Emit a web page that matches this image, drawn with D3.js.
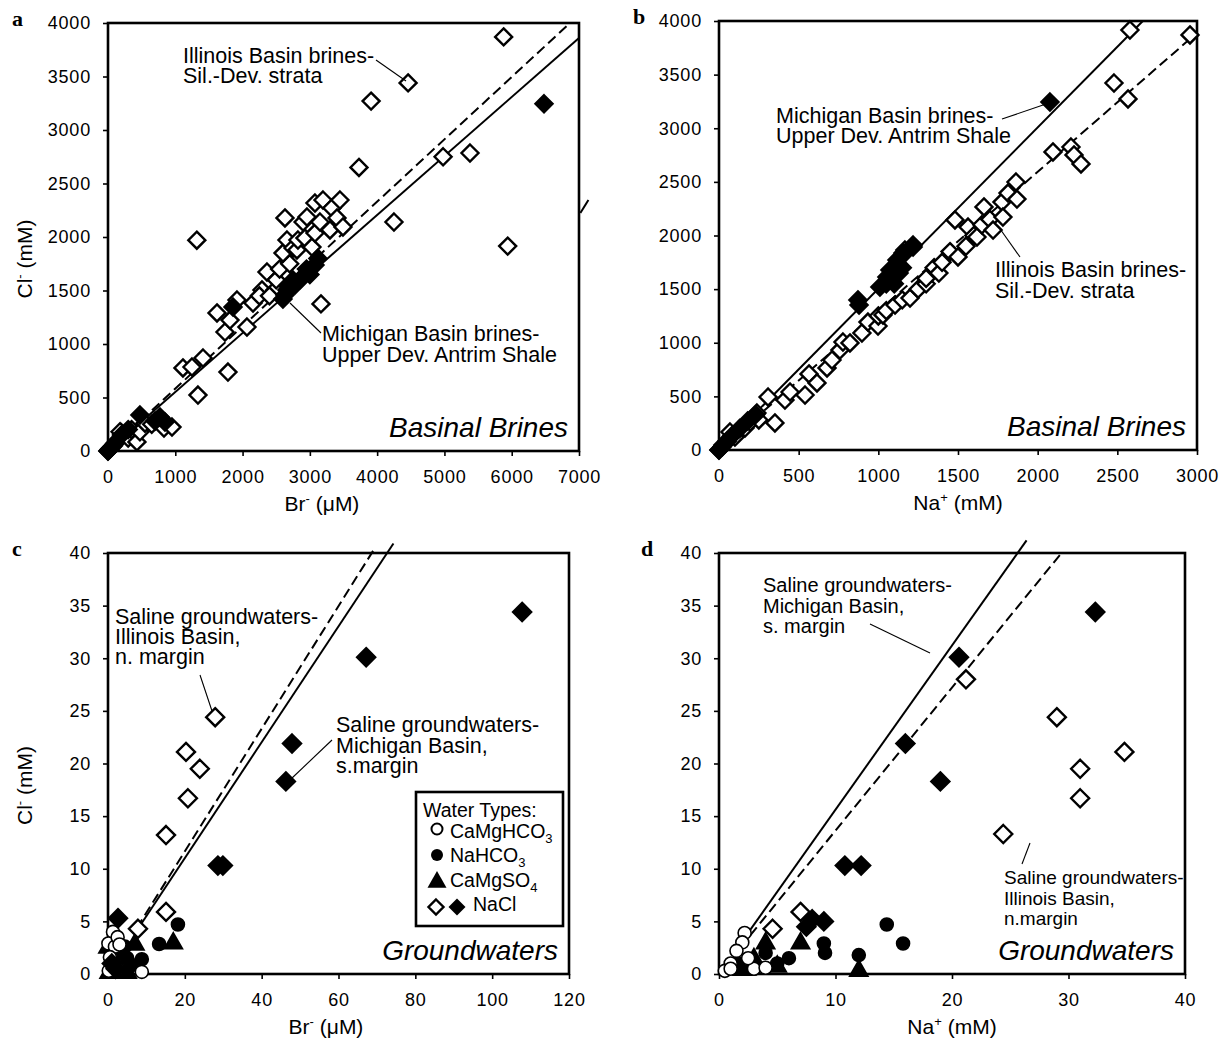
<!DOCTYPE html>
<html>
<head>
<meta charset="utf-8">
<script src="https://cdn.jsdelivr.net/npm/d3@7"></script>
<style>
  body { margin: 0; background: #fff; }
  svg text { font-family: "Liberation Sans", Arial, Helvetica, sans-serif; fill: #000; }
</style>
</head>
<body>
<script>
// ---------- data ----------
// a: basinal brines, Br (uM) vs Cl (mM)
const brinesBrIllinois = [
  [0, 0], [30, 20], [80, 50], [150, 100], [200, 170], [180, 180], [300, 120], [350, 200],
  [430, 85], [475, 180], [550, 260], [650, 250], [832, 215], [951, 224], [1114, 776],
  [1248, 785], [1337, 523], [1412, 869], [1620, 1290], [1739, 1112], [1783, 738],
  [1813, 1224], [1917, 1411], [2065, 1159], [2155, 1383], [2288, 1505], [2363, 1673],
  [2482, 1505], [2250, 1450], [2400, 1450], [2500, 1600], [2550, 1700], [2700, 1750],
  [2601, 1850], [2630, 2178], [2660, 1972], [2750, 1897], [2808, 1879], [2823, 1972],
  [2900, 2140], [2927, 1990], [2957, 2187], [3031, 1906], [3076, 2318], [3076, 2037],
  [3150, 2140], [3195, 2346], [3299, 2066], [3328, 2271], [3403, 2178], [3447, 2346],
  [3492, 2094], [3165, 1375], [3730, 2650], [3910, 3270], [4460, 3440], [4980, 2750],
  [5380, 2785], [4250, 2140], [5880, 3870], [5940, 1915], [1320, 1970]
];
const brinesBrMichigan = [
  [0, 0], [20, 15], [60, 40], [100, 70], [200, 150], [300, 200], [475, 336], [700, 280],
  [773, 318], [847, 271], [1858, 1346], [2600, 1420], [2630, 1458], [2680, 1500],
  [2660, 1505], [2700, 1550], [2750, 1598], [2779, 1551], [2850, 1600], [2927, 1645],
  [2950, 1700], [3000, 1650], [3076, 1738], [3120, 1800], [6480, 3245]
];
// b: basinal brines, Na (mM) vs Cl (mM)
const brinesNaIllinois = [
  [0, 0], [25, 47], [50, 80], [69, 168], [100, 120], [163, 205], [195, 261], [238, 345],
  [250, 280], [308, 494], [351, 252], [414, 466], [446, 541], [540, 513], [565, 709],
  [615, 625], [678, 765], [709, 839], [759, 932], [778, 1007], [822, 998], [897, 1091],
  [935, 1193], [998, 1156], [1000, 1250], [1029, 1259], [1050, 1300], [1105, 1352],
  [1150, 1400], [1199, 1417], [1250, 1500], [1300, 1550], [1300, 1600], [1350, 1700],
  [1380, 1650], [1400, 1750], [1450, 1850], [1500, 1800], [1481, 2145], [1550, 1900],
  [1563, 2079], [1600, 2000], [1619, 1986], [1650, 2100], [1663, 2266], [1700, 2150],
  [1720, 2051], [1776, 2312], [1782, 2172], [1814, 2396], [1864, 2499], [1870, 2340],
  [1167, 1865], [1218, 1911], [2096, 2779], [2209, 2825], [2228, 2751], [2272, 2667],
  [2479, 3422], [2567, 3273], [2579, 3916], [2956, 3870]
];
const brinesNaMichigan = [
  [0, 0], [20, 30], [50, 80], [80, 130], [130, 200], [180, 270], [230, 330], [872, 1399],
  [879, 1352], [1010, 1520], [1050, 1550], [1054, 1613], [1073, 1678], [1080, 1600],
  [1100, 1550], [1100, 1700], [1117, 1772], [1130, 1650], [1150, 1700], [1155, 1837],
  [1218, 1893], [2077, 3245]
];
// c: groundwaters, Br (uM) vs Cl (mM)
const gwBrOpenNaCl = [[27.9, 24.4], [20.3, 21.1], [23.9, 19.5], [20.8, 16.7], [15.1, 13.2], [15.1, 5.9], [7.8, 4.3]];
const gwBrFilledNaCl = [[107.8, 34.4], [67.2, 30.1], [47.9, 21.9], [46.3, 18.3], [28.6, 10.3], [29.9, 10.3], [2.6, 5.3], [1.0, 1.0], [2.0, 0.5]];
const gwBrNaHCO3 = [[18.2, 4.7], [13.3, 2.85], [8.8, 1.4], [4.4, 2.6], [2.0, 1.0], [3.0, 0.5], [5.0, 1.5], [1.0, 0.3], [6.0, 0.8], [3.0, 2.5]];
const gwBrCaMgSO4 = [[17.0, 3.0], [7.0, 2.9], [0.0, 2.6], [1.0, 0.4], [2.0, 0.2], [3.0, 1.0], [4.0, 0.6], [6.0, 1.0], [5.0, 0.2], [0.3, 0.2], [3.0, 2.2]];
const gwBrCaMgHCO3 = [[8.8, 0.2], [1.3, 4.0], [0.1, 2.9], [1.8, 2.6], [0.5, 1.6], [1.8, 0.85], [2.5, 3.5], [1.5, 0.8], [2.5, 0.5], [0.2, 0.3], [3.0, 2.8]];
// d: groundwaters, Na (mM) vs Cl (mM)
const gwNaOpenNaCl = [[29.0, 24.4], [34.8, 21.1], [31.0, 19.5], [31.0, 16.7], [24.4, 13.3], [7.0, 5.9], [4.6, 4.3], [21.2, 28.0]];
const gwNaFilledNaCl = [[32.3, 34.4], [20.6, 30.1], [16.0, 21.9], [19.0, 18.3], [10.8, 10.3], [12.2, 10.3], [8.0, 5.2], [9.0, 5.0], [7.5, 4.5]];
const gwNaNaHCO3 = [[14.4, 4.7], [15.8, 2.9], [9.0, 2.9], [9.1, 2.0], [12.0, 1.8], [5.0, 1.0], [3.0, 0.5], [2.0, 1.0], [4.0, 2.0], [6.0, 1.5]];
const gwNaCaMgSO4 = [[12.0, 0.4], [7.0, 3.0], [4.0, 3.0], [3.0, 1.5], [2.0, 0.5], [5.0, 0.8], [1.5, 1.0]];
const gwNaCaMgHCO3 = [[2.2, 3.9], [2.0, 3.0], [1.5, 2.2], [1.0, 1.0], [0.5, 0.3], [3.0, 0.5], [4.0, 0.6], [2.5, 1.5], [1.0, 0.5]];

// reference lines (endpoints in data units)
const brinesBrSolid = [[0, 0], [7000, 3860]];
const brinesBrDashed = [[0, 0], [6866, 4000]];
const brinesBrStray = [[7020, 2224], [7140, 2346]];
const brinesNaSolid = [[0, 0], [2660, 4000]];
const brinesNaDashed = [[0, 0], [3000, 3890]];
const gwBrSolid = [[7.5, 4.13], [74.3, 40.9]];
const gwBrDashed = [[7.5, 4.37], [69.0, 40.2]];
const gwNaSolid = [[2.3, 3.6], [26.4, 41.2]];
const gwNaDashed = [[2.7, 3.7], [29.4, 40.0]];

// tick values
const brTicksBrines = d3.range(0, 7001, 1000);
const naTicksBrines = d3.range(0, 3001, 500);
const clTicksBrines = d3.range(0, 4001, 500);
const brTicksGw = d3.range(0, 121, 20);
const naTicksGw = d3.range(0, 41, 10);
const clTicksGw = d3.range(0, 41, 5);

// legend entries
const legendTypes = ['CaMgHCO', 'NaHCO', 'CaMgSO', 'NaCl'];
const legendSubs = ['3', '3', '4', ''];

// ---------- drawing ----------
const W = 1225;
const H = 1042;
const svg = d3.select('body').append('svg').attr('width', W).attr('height', H);

const diamond = (r) => `M0,${-r}L${r},0L0,${r}L${-r},0Z`;
const triangle = (r) => `M0,${-r * 1.05}L${r},${r * 0.7}L${-r},${r * 0.7}Z`;

const drawPanel = (p) => {
  const x = d3.scaleLinear().domain(p.xDomain).range([p.left, p.right]);
  const y = d3.scaleLinear().domain(p.yDomain).range([p.bottom, p.top]);
  const g = svg.append('g');

  //axes with outward ticks
  const xAxis = g.append('g').attr('transform', `translate(0, ${p.bottom})`)
    .call(d3.axisBottom(x).tickValues(p.xTicks).tickFormat(d3.format('d'))
      .tickSize(5).tickPadding(14).tickSizeOuter(0));
  const yAxis = g.append('g').attr('transform', `translate(${p.left}, 0)`)
    .call(d3.axisLeft(y).tickValues(p.yTicks).tickFormat(d3.format('d'))
      .tickSize(5).tickPadding(12).tickSizeOuter(0));
  [xAxis, yAxis].forEach((a) => {
    a.select('.domain').remove();
    a.selectAll('line').attr('stroke', '#000').attr('stroke-width', 1.6);
    a.selectAll('text').style('font-size', '18px').style('letter-spacing', '0.8px')
      .style('font-family', '"Liberation Sans", Arial, sans-serif');
  });

  //frame
  g.append('rect').attr('x', p.left).attr('y', p.top)
    .attr('width', p.right - p.left).attr('height', p.bottom - p.top)
    .attr('fill', 'none').attr('stroke', '#000').attr('stroke-width', 2.6);

  //reference lines
  const line = d3.line().x((d) => x(d[0])).y((d) => y(d[1]));
  p.lines.forEach((l) => {
    g.append('path').attr('d', line(l.pts)).attr('fill', 'none')
      .attr('stroke', '#000').attr('stroke-width', 2)
      .attr('stroke-dasharray', l.dash ? '10,5' : null);
  });

  //markers
  p.series.forEach((s) => {
    g.append('g').selectAll('path')
      .data(s.data)
      .enter()
      .append('path')
      .attr('transform', (d) => `translate(${x(d[0])}, ${y(d[1])})`)
      .attr('d', s.shape === 'circle' ? d3.symbol().type(d3.symbolCircle).size(Math.PI * s.r * s.r)()
        : s.shape === 'triangle' ? triangle(s.r) : diamond(s.r))
      .attr('fill', s.filled ? '#000' : '#fff')
      .attr('stroke', '#000')
      .attr('stroke-width', s.shape === 'circle' ? 1.6 : 2.4);
  });

  //annotations with leaders
  p.notes.forEach((n) => {
    const t = g.append('text').attr('x', n.x).attr('y', n.y).style('font-size', `${n.fs || 21.5}px`);
    n.lines.forEach((s, i) => t.append('tspan').attr('x', n.x).attr('y', n.y + i * n.lh).text(s));
    g.append('line').attr('x1', n.from[0]).attr('y1', n.from[1])
      .attr('x2', n.to[0]).attr('y2', n.to[1])
      .attr('stroke', '#000').attr('stroke-width', 1.1);
  });

  //italic caption
  g.append('text').attr('x', p.right - 11).attr('y', p.bottom - 14)
    .attr('text-anchor', 'end').style('font-size', '28px').style('font-style', 'italic')
    .text(p.caption);

  //panel letter
  g.append('text').attr('x', p.letterX).attr('y', p.top + 3)
    .style('font-family', '"Liberation Serif", "Times New Roman", serif')
    .style('font-weight', 'bold').style('font-size', '22px').text(p.letter);

  //x title
  const xt = g.append('text').attr('x', p.xTitleX).attr('y', p.bottom + 60)
    .attr('text-anchor', 'middle').style('font-size', '21px');
  xt.append('tspan').text(p.xTitle[0]);
  xt.append('tspan').attr('dy', -8).style('font-size', '13px').text(p.xTitle[1]);
  xt.append('tspan').attr('dy', 8).text(p.xTitle[2]);

  //y title
  if (p.yTitle) {
    const yc = (p.top + p.bottom) / 2 + 22;
    const yt = g.append('text').attr('transform', `translate(32, ${yc}) rotate(-90)`)
      .attr('text-anchor', 'middle').style('font-size', '21px');
    yt.append('tspan').text('Cl');
    yt.append('tspan').attr('dy', -8).style('font-size', '13px').text('-');
    yt.append('tspan').attr('dy', 8).text(' (mM)');
  }
  return { x, y, g };
};

const openD = (data, r) => ({ data, shape: 'diamond', filled: false, r });
const fillD = (data, r) => ({ data, shape: 'diamond', filled: true, r });

// panel a
drawPanel({
  letter: 'a', letterX: 12, left: 108, right: 579, top: 23, bottom: 451,
  xDomain: [0, 7000], yDomain: [0, 4000], xTicks: brTicksBrines, yTicks: clTicksBrines,
  lines: [{ pts: brinesBrSolid }, { pts: brinesBrDashed, dash: true }, { pts: brinesBrStray }],
  series: [openD(brinesBrIllinois, 8.5), fillD(brinesBrMichigan, 8.5)],
  notes: [
    { lines: ['Illinois Basin brines-', 'Sil.-Dev. strata'], x: 183, y: 63, lh: 19.5, from: [376, 60], to: [406, 81] },
    { lines: ['Michigan Basin brines-', 'Upper Dev. Antrim Shale'], x: 322, y: 341, lh: 21, from: [290, 303], to: [321, 333] },
  ],
  caption: 'Basinal Brines', xTitle: ['Br', '-', ' (\u03bcM)'], xTitleX: 322, yTitle: true,
});

// panel b
drawPanel({
  letter: 'b', letterX: 633, left: 719, right: 1197, top: 21, bottom: 450,
  xDomain: [0, 3000], yDomain: [0, 4000], xTicks: naTicksBrines, yTicks: clTicksBrines,
  lines: [{ pts: brinesNaSolid }, { pts: brinesNaDashed, dash: true }],
  series: [openD(brinesNaIllinois, 8.5), fillD(brinesNaMichigan, 8.5)],
  notes: [
    { lines: ['Michigan Basin brines-', 'Upper Dev. Antrim Shale'], x: 776, y: 123, lh: 20, from: [1002, 119], to: [1046, 104] },
    { lines: ['Illinois Basin brines-', 'Sil.-Dev. strata'], x: 995, y: 277, lh: 21, from: [998, 226], to: [1020, 257] },
  ],
  caption: 'Basinal Brines', xTitle: ['Na', '+', ' (mM)'], xTitleX: 958, yTitle: false,
});

// panel c
const c = drawPanel({
  letter: 'c', letterX: 12, left: 108, right: 569, top: 553, bottom: 974,
  xDomain: [0, 120], yDomain: [0, 40], xTicks: brTicksGw, yTicks: clTicksGw,
  lines: [{ pts: gwBrSolid }, { pts: gwBrDashed, dash: true }],
  series: [
    { data: gwBrCaMgSO4, shape: 'triangle', filled: true, r: 8.5 },
    { data: gwBrNaHCO3, shape: 'circle', filled: true, r: 6.5 },
    { data: gwBrCaMgHCO3, shape: 'circle', filled: false, r: 6.5 },
    openD(gwBrOpenNaCl, 9), fillD(gwBrFilledNaCl, 9),
  ],
  notes: [
    { lines: ['Saline groundwaters-', 'Illinois Basin,', 'n. margin'], x: 115, y: 624, lh: 20, from: [200, 675], to: [212, 711] },
    { lines: ['Saline groundwaters-', 'Michigan Basin,', 's.margin'], x: 336, y: 732, lh: 20.5, from: [332, 740], to: [291, 779] },
  ],
  caption: 'Groundwaters', xTitle: ['Br', '-', ' (\u03bcM)'], xTitleX: 326, yTitle: true,
});

// panel d
drawPanel({
  letter: 'd', letterX: 641, left: 719, right: 1185, top: 553, bottom: 974,
  xDomain: [0, 40], yDomain: [0, 40], xTicks: naTicksGw, yTicks: clTicksGw,
  lines: [{ pts: gwNaSolid }, { pts: gwNaDashed, dash: true }],
  series: [
    { data: gwNaCaMgSO4, shape: 'triangle', filled: true, r: 8.5 },
    { data: gwNaNaHCO3, shape: 'circle', filled: true, r: 6.5 },
    { data: gwNaCaMgHCO3, shape: 'circle', filled: false, r: 6.5 },
    openD(gwNaOpenNaCl, 9), fillD(gwNaFilledNaCl, 9),
  ],
  notes: [
    { lines: ['Saline groundwaters-', 'Michigan Basin,', 's. margin'], x: 763, y: 592, lh: 20.5, fs: 20, from: [870, 624], to: [930, 653] },
    { lines: ['Saline groundwaters-', 'Illinois Basin,', 'n.margin'], x: 1004, y: 884, lh: 20.5, fs: 19, from: [1022, 864], to: [1030, 843] },
  ],
  caption: 'Groundwaters', xTitle: ['Na', '+', ' (mM)'], xTitleX: 952, yTitle: false,
});

// legend inside panel c
const legend = c.g.append('g');
legend.append('rect').attr('x', 416).attr('y', 792).attr('width', 147).attr('height', 134)
  .attr('fill', '#fff').attr('stroke', '#000').attr('stroke-width', 2.6);
legend.append('text').attr('x', 423).attr('y', 817).style('font-size', '19.5px').text('Water Types:');
const rowY = [838, 862, 887, 911];
legendTypes.forEach((name, i) => {
  const t = legend.append('text').attr('x', i === 3 ? 473 : 450).attr('y', rowY[i]).style('font-size', '19.5px');
  t.append('tspan').text(name);
  if (legendSubs[i]) t.append('tspan').attr('dy', 5).style('font-size', '13px').text(legendSubs[i]);
});
legend.append('circle').attr('cx', 437).attr('cy', 829).attr('r', 5.5)
  .attr('fill', '#fff').attr('stroke', '#000').attr('stroke-width', 2);
legend.append('circle').attr('cx', 437).attr('cy', 855).attr('r', 6).attr('fill', '#000');
legend.append('path').attr('transform', 'translate(437, 881)').attr('d', triangle(9.5)).attr('fill', '#000');
legend.append('path').attr('transform', 'translate(436, 907)').attr('d', diamond(7.5))
  .attr('fill', '#fff').attr('stroke', '#000').attr('stroke-width', 2.4);
legend.append('path').attr('transform', 'translate(457, 907)').attr('d', diamond(8.5)).attr('fill', '#000');
</script>
</body>
</html>
